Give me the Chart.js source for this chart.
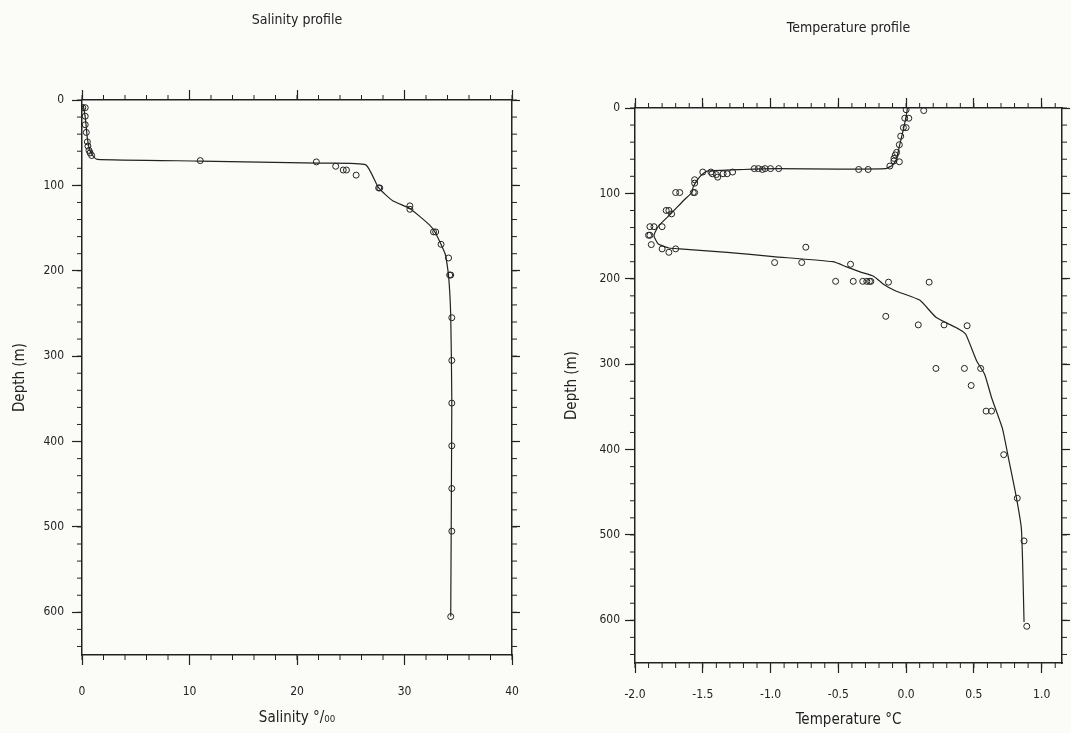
<!DOCTYPE html>
<html>
<head>
<meta charset="utf-8">
<script src="https://cdn.jsdelivr.net/npm/chart.js@4.4.1/dist/chart.umd.min.js"></script>
<style>
    body { margin: 0; background: #fbfbf8; width: 1071px; height: 733px; overflow: hidden; position: relative; }
    canvas { position: absolute; top: 0; }
    #salChart { left: 0; }
    #tempChart { left: 540px; }
</style>
</head>
<body>
<canvas id="salChart" width="540" height="733"></canvas>
<canvas id="tempChart" width="531" height="733"></canvas>
<script>
// --- Salinity profile (salinity in per mille, depth in m) ---
const salPointValues = [0.07, 0.3, 0.3, 0.3, 0.4, 0.5, 0.55, 0.65, 0.75, 0.9, 11.0, 21.8, 23.6, 24.3, 24.6, 25.5,
    27.6, 27.7, 30.5, 30.5, 32.7, 32.9, 33.4, 34.1, 34.2, 34.3, 34.4, 34.4, 34.4, 34.4, 34.4, 34.4, 34.3];
const salPointDepths = [9, 9, 19, 29, 38, 49, 54, 59, 62, 65, 71, 72.5, 77.6, 82, 82, 88,
    103, 103, 124, 128, 154.5, 154.5, 169, 185, 205, 205, 255, 305, 355, 405, 455, 505, 605];
const salLineValues = [0.1, 0.3, 0.5, 0.7, 1.0, 1.4, 11, 22, 26.4, 27.6, 28.9, 30.5, 32.3, 32.9, 33.8, 34.1, 34.3, 34.4, 34.3];
const salLineDepths = [5, 20, 45, 58, 65, 69.5, 71.5, 74, 76, 103, 118, 127, 146, 156, 181, 206, 253, 351, 605];

// --- Temperature profile (deg C, depth in m) ---
const tempPointValues = [0.00, 0.13, -0.01, 0.02, -0.02, 0.00, -0.04, -0.05, -0.07, -0.08, -0.09, -0.09, -0.05, -0.12,
    -0.28, -0.35, -0.94, -1.00, -1.04, -1.06, -1.09, -1.12, -1.28, -1.32, -1.35, -1.39, -1.40, -1.43, -1.44, -1.50,
    -1.56, -1.56, -1.57, -1.56, -1.70, -1.67, -1.77, -1.75, -1.73, -1.80, -1.86, -1.89, -1.90, -1.89, -1.88, -1.80,
    -1.75, -1.70, -0.74, -0.97, -0.77, -0.41, -0.52, -0.39, -0.32, -0.29, -0.27, -0.26, -0.13, 0.17,
    -0.15, 0.09, 0.28, 0.45, 0.22, 0.43, 0.55, 0.48, 0.59, 0.63, 0.72, 0.82, 0.87, 0.89];
const tempPointDepths = [2, 3, 12, 12, 23, 23, 33, 43, 52, 55, 59, 62, 63, 68,
    72, 72, 71, 71, 71, 72, 71, 71, 75, 77, 77, 81, 78, 77, 75, 75,
    84, 88, 99, 99, 99, 99, 120, 120, 124, 139, 139, 139, 149, 149, 160, 165,
    169, 165, 163, 181, 181, 183, 203, 203, 203, 203, 203, 203, 204, 204,
    244, 254, 254, 255, 305, 305, 305, 325, 355, 355, 406, 457, 507, 607];
const tempLineValues = [0.01, 0.00, -0.02, -0.05, -0.07, -0.10, -0.15, -0.5, -0.96, -1.2, -1.47, -1.52, -1.57, -1.58,
    -1.64, -1.73, -1.82, -1.85, -1.86, -1.83, -1.75, -1.67, -1.32, -0.98, -0.54, -0.44, -0.34, -0.24, -0.17, -0.08,
    0.10, 0.22, 0.39, 0.44, 0.52, 0.58, 0.63, 0.71, 0.76, 0.81, 0.85, 0.86, 0.87];
const tempLineDepths = [0, 10, 25, 45, 60, 67, 71, 71.5, 71, 72, 74, 80, 92, 99,
    108, 123, 137, 145, 150, 159, 164, 165, 169, 174, 180, 186, 192, 197, 206, 214,
    225, 245, 259, 265, 296, 312, 339, 375, 414, 453, 492, 535, 602];

// Axis settings
const depthMin = 0, depthMax = 650, depthStep = 100, depthMinor = 20;
const salMin = 0, salMax = 40, salStep = 10, salMinor = 2;
const tempMin = -2.0, tempMax = 1.15, tempStep = 0.5, tempMinor = 0.1;

const INK = "#222222";
const FONT = "'Liberation Sans Narrow', 'DejaVu Sans Condensed', 'DejaVu Sans', sans-serif";

function toPoints(xs, ys) {
    return xs.map((x, i) => ({ x: x, y: ys[i] }));
}

// Draws the short unlabelled ticks between the major ones
const minorTicks = {
    id: "minorTicks",
    afterDraw(chart, args, opts) {
        const ctx = chart.ctx;
        const steps = opts.steps || {};
        ctx.save();
        ctx.strokeStyle = INK;
        ctx.lineWidth = 1;
        Object.keys(steps).forEach(id => {
            const scale = chart.scales[id];
            if (!scale) return;
            const len = 5;
            ctx.beginPath();
            for (let i = 0; ; i++) {
                const v = scale.min + i * steps[id];
                if (v > scale.max + 1e-9) break;
                const p = scale.getPixelForValue(v);
                const pos = scale.options.position;
                if (pos === "bottom") { ctx.moveTo(p, scale.top); ctx.lineTo(p, scale.top + len); }
                if (pos === "top") { ctx.moveTo(p, scale.bottom); ctx.lineTo(p, scale.bottom - len); }
                if (pos === "left") { ctx.moveTo(scale.right, p); ctx.lineTo(scale.right - len, p); }
                if (pos === "right") { ctx.moveTo(scale.left, p); ctx.lineTo(scale.left + len, p); }
            }
            ctx.stroke();
        });
        ctx.restore();
    }
};

function axisBase(extra) {
    const base = {
        type: "linear",
        grid: { drawOnChartArea: false, tickLength: 10, color: INK, tickWidth: 1.2 },
        border: { color: INK, width: 1.5 }
    };
    return Object.assign(base, extra);
}

function buildChart(canvasId, cfg) {
    const tickFont = { family: FONT, size: 12 };
    const titleFont = { family: FONT, size: 15 };

    return new Chart(document.getElementById(canvasId), {
        type: "scatter",
        data: {
            datasets: [{
                data: toPoints(cfg.lineX, cfg.lineY),
                showLine: true,
                borderColor: INK,
                borderWidth: 1.2,
                pointRadius: 0,
                tension: 0.15
            }, {
                data: toPoints(cfg.ptX, cfg.ptY),
                showLine: false,
                pointRadius: 3,
                pointBorderWidth: 1,
                pointBorderColor: INK,
                pointBackgroundColor: "rgba(0,0,0,0)"
            }]
        },
        options: {
            responsive: false,
            animation: false,
            layout: { padding: 0 },
            plugins: {
                legend: { display: false },
                tooltip: { enabled: false },
                title: {
                    display: true,
                    fullSize: false,
                    text: cfg.title,
                    color: INK,
                    font: { family: FONT, size: 14, weight: "normal" },
                    padding: { top: cfg.titleTop, bottom: 0 }
                },
                minorTicks: { steps: { x: cfg.xMinor, x2: cfg.xMinor, y: depthMinor, y2: depthMinor } }
            },
            scales: {
                x: axisBase({
                    position: "bottom",
                    min: cfg.xMin, max: cfg.xMax,
                    afterFit: s => { s.height = cfg.bottomH; },
                    ticks: {
                        stepSize: cfg.xStep, includeBounds: false, padding: cfg.xLabelPad,
                        color: INK, font: tickFont, maxRotation: 0,
                        callback: cfg.xFormat
                    },
                    title: { display: true, text: cfg.xTitle, color: INK, font: titleFont, padding: { top: 0, bottom: cfg.xTitlePad } }
                }),
                x2: axisBase({
                    position: "top",
                    min: cfg.xMin, max: cfg.xMax,
                    afterFit: s => { s.height = cfg.topH; },
                    ticks: { display: false, stepSize: cfg.xStep, includeBounds: false }
                }),
                y: axisBase({
                    position: "left",
                    reverse: true,
                    min: depthMin, max: depthMax,
                    afterFit: s => { s.width = cfg.leftW; },
                    ticks: { stepSize: depthStep, includeBounds: false, padding: cfg.yLabelPad, color: INK, font: tickFont },
                    title: { display: true, text: "Depth (m)", color: INK, font: titleFont, padding: { top: cfg.yTitlePad, bottom: 0 } }
                }),
                y2: axisBase({
                    position: "right",
                    reverse: true,
                    min: depthMin, max: depthMax,
                    afterFit: s => { s.width = cfg.rightW; },
                    grid: { drawOnChartArea: false, tickLength: 8, color: INK, tickWidth: 1.2 },
                    ticks: { display: false, stepSize: depthStep, includeBounds: false }
                })
            }
        },
        plugins: [minorTicks]
    });
}

buildChart("salChart", {
    title: "Salinity profile", titleTop: 12, topH: 100 - 28.8, bottomH: 733 - 655,
    leftW: 82, rightW: 28,
    xMin: salMin, xMax: salMax, xStep: salStep, xMinor: salMinor,
    xFormat: v => v,
    xTitle: "Salinity °/₀₀", xLabelPad: 20, xTitlePad: 6,
    yLabelPad: 8, yTitlePad: 11,
    lineX: salLineValues, lineY: salLineDepths,
    ptX: salPointValues, ptY: salPointDepths
});

buildChart("tempChart", {
    title: "Temperature profile", titleTop: 20, topH: 108 - 36.8, bottomH: 733 - 663,
    leftW: 95, rightW: 9,
    xMin: tempMin, xMax: tempMax, xStep: tempStep, xMinor: tempMinor,
    xFormat: v => Number(v).toFixed(1),
    xTitle: "Temperature °C", xLabelPad: 15, xTitlePad: 4,
    yLabelPad: 5, yTitlePad: 23,
    lineX: tempLineValues, lineY: tempLineDepths,
    ptX: tempPointValues, ptY: tempPointDepths
});
</script>
</body>
</html>
